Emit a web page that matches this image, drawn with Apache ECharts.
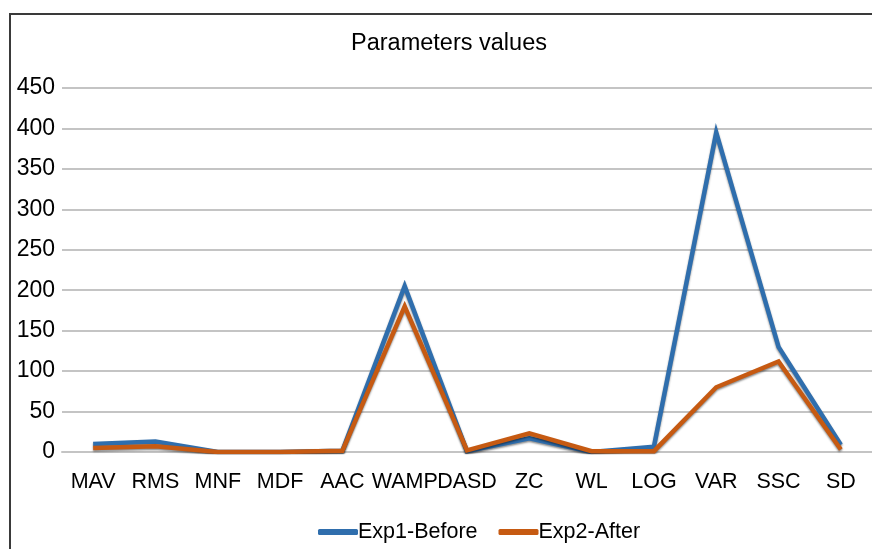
<!DOCTYPE html>
<html>
<head>
<meta charset="utf-8">
<script src="https://cdn.jsdelivr.net/npm/echarts@6/dist/echarts.min.js"></script>
<style>
html,body{margin:0;padding:0;background:#fff;}
#chart{width:872px;height:549px;}
</style>
</head>
<body>
<div id="chart"></div>
<script>
const categories = ['MAV','RMS','MNF','MDF','AAC','WAMP','DASD','ZC','WL','LOG','VAR','SSC','SD'];
const exp1Before = [10, 13, 0, 0, 1.5, 205, 1, 17, 0, 6.5, 395, 130, 9];
const exp2After  = [5, 7, 0, 0, 1.5, 180, 2, 23, 1, 1, 80, 112, 3];
const seriesNames = ['Exp1-Before', 'Exp2-After'];
const yMin = 0, yMax = 450, yStep = 50;

const chart = echarts.init(document.getElementById('chart'), null, {renderer:'canvas'});
const font = '"Liberation Sans", Arial, sans-serif';
function lineSeries(name, data, color){
  return {
    name, type:'line', data, symbol:'none', smooth:false,
    lineStyle:{color, width:4.5, shadowColor:'rgba(0,0,0,0.45)', shadowBlur:2, shadowOffsetY:1.5, join:'miter'},
    itemStyle:{color}
  };
}
chart.setOption({
  animation:false,
  backgroundColor:'#fff',
  graphic:[{type:'rect', shape:{x:10,y:14,width:900,height:600}, style:{fill:'none', stroke:'#3a3a3a', lineWidth:2}, silent:true, z:-1}],
  title:{text:'Parameters values', left:444, textAlign:'center', top:27,
    textStyle:{fontFamily:font, fontSize:23.5, fontWeight:'normal', color:'#000'}},
  grid:{left:62, right:0, top:88, bottom:97, containLabel:false},
  legend:{data:seriesNames, left:313, top:516, itemWidth:40, itemHeight:6, itemGap:21, icon:'roundRect',
    textStyle:{fontFamily:font, fontSize:21.5, color:'#000', padding:[0,0,0,-5]}},
  xAxis:{type:'category', data:categories, boundaryGap:true,
    axisLine:{show:true, lineStyle:{color:'#c4c4c4', width:2}}, axisTick:{show:false},
    axisLabel:{fontFamily:font, fontSize:21.5, color:'#000', margin:19, interval:0}},
  yAxis:{type:'value', min:yMin, max:yMax, interval:yStep,
    axisLine:{show:false}, axisTick:{show:false},
    axisLabel:{fontFamily:font, fontSize:23, color:'#000', margin:7},
    splitLine:{lineStyle:{color:'#c4c4c4', width:2}}},
  series:[lineSeries(seriesNames[0], exp1Before, '#2f6ead'), lineSeries(seriesNames[1], exp2After, '#c65a12')]
});
</script>
</body>
</html>
